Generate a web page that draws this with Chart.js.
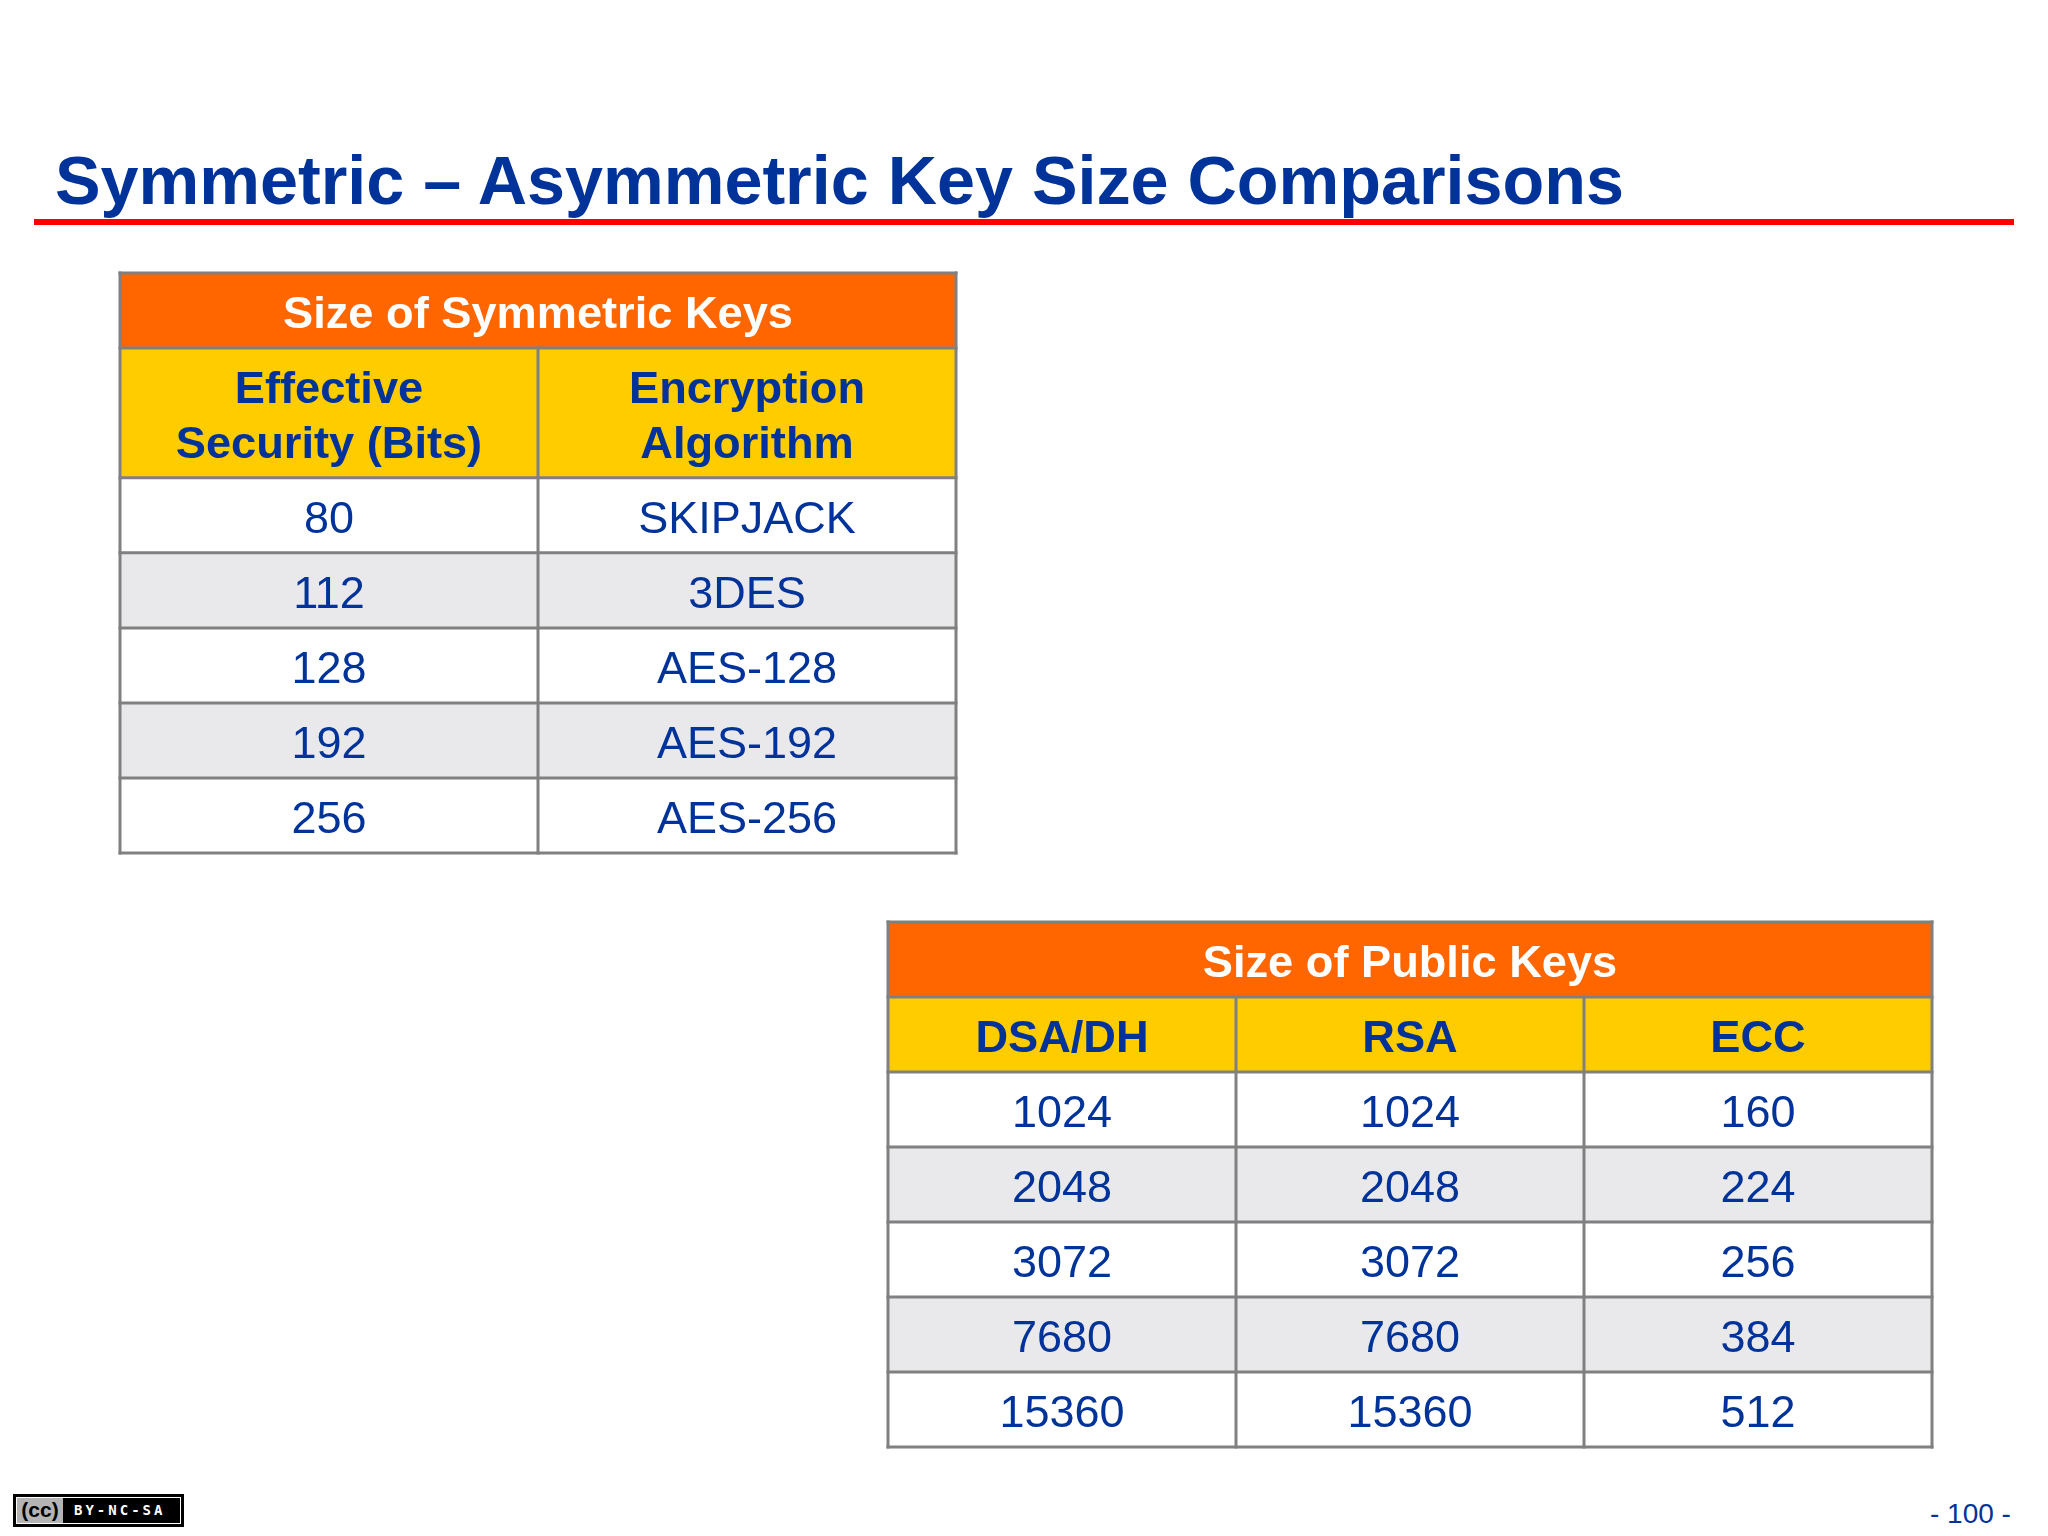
<!DOCTYPE html>
<html>
<head>
<meta charset="utf-8">
<title>Symmetric – Asymmetric Key Size Comparisons</title>
<script src="https://cdn.jsdelivr.net/npm/chart.js@4"></script>
<style>
    html, body { margin: 0; padding: 0; background: #fff; }
    body { width: 2048px; height: 1536px; position: relative; overflow: hidden; font-family: "Liberation Sans", sans-serif; color: #003399; }
    canvas { position: absolute; }
    #slideTitle { position: absolute; left: 55px; top: 140px; font-size: 68.3px; line-height: 80px; font-weight: bold; white-space: nowrap; margin: 0; }
    #titleRule { position: absolute; left: 34px; top: 219px; width: 1980px; height: 6px; background: #ff0000; }
    #pageNumber { position: absolute; left: 1930px; top: 1497px; font-size: 28px; line-height: 34px; white-space: pre; }
    #ccBadge { position: absolute; left: 13px; top: 1494px; width: 171px; height: 33px; background: #000; }
    #ccBadge .inner { position: absolute; left: 3px; top: 3px; width: 163px; height: 25px; border: 1px solid #fff; }
    #ccBadge .cc { position: absolute; left: 0; top: 0; width: 46px; height: 25px; background: #b4b4b4; color: #000; font: bold 21px/24px "Liberation Sans", sans-serif; text-align: center; }
    #ccBadge .terms { position: absolute; left: 57px; top: 0; color: #fff; font: bold 14px/25px "DejaVu Sans Mono", monospace; letter-spacing: 3px; white-space: nowrap; }
</style>
</head>
<body>
<h1 id="slideTitle">Symmetric – Asymmetric Key Size Comparisons</h1>
<div id="titleRule"></div>
<canvas id="symmetricTable" style="left:116px;top:269px"></canvas>
<canvas id="publicTable" style="left:884px;top:918px"></canvas>
<div id="ccBadge"><div class="inner"><div class="cc">(cc)</div><div class="terms">BY-NC-SA</div></div></div>
<div id="pageNumber">- 100 -</div>

<script>
// data
const symmetricTitle = 'Size of Symmetric Keys';
const symmetricColumns = [['Effective', 'Security (Bits)'], ['Encryption', 'Algorithm']];
const symmetricBits = ['80', '112', '128', '192', '256'];
const symmetricAlgorithms = ['SKIPJACK', '3DES', 'AES-128', 'AES-192', 'AES-256'];

const publicTitle = 'Size of Public Keys';
const publicColumns = [['DSA/DH'], ['RSA'], ['ECC']];
const dsaDhKeys = ['1024', '2048', '3072', '7680', '15360'];
const rsaKeys = ['1024', '2048', '3072', '7680', '15360'];
const eccKeys = ['160', '224', '256', '384', '512'];

const ORANGE = '#ff6600';
const YELLOW = '#ffcc00';
const GREY_ROW = '#e9e9ec';
const LINE = '#808080';
const BLUE = '#003399';
const PAD = 4; // room for the outer border inside the canvas
const TEXT_DROP = 5; // text sits a little under the row centre on the slide

// draws the rules and the cell texts from the scales and the bar elements
const tablePlugin = {
    id: 'tablePlugin',
    afterDatasetsDraw(chart, args, opts) {
        const ctx = chart.ctx;
        const x = chart.scales.x;
        const y = chart.scales.y;
        const area = chart.chartArea;
        const datasets = chart.data.datasets;

        ctx.save();
        ctx.strokeStyle = LINE;
        ctx.lineWidth = 3;
        ctx.lineCap = 'square';

        // horizontal rules at every row edge
        let edge = 0;
        const edges = [0];
        datasets.forEach(ds => { edge += ds.data[0]; edges.push(edge); });
        edges.forEach(e => {
            const py = y.getPixelForValue(e);
            ctx.beginPath();
            ctx.moveTo(area.left, py);
            ctx.lineTo(area.right, py);
            ctx.stroke();
        });

        // vertical rules: the title row stays undivided
        const colWidth = area.width / x.ticks.length;
        const below = y.getPixelForValue(edges[1]);
        for (let i = 0; i <= x.ticks.length; i++) {
            const px = x.getPixelForTick(0) - colWidth / 2 + colWidth * i;
            const isOuter = i === 0 || i === x.ticks.length;
            ctx.beginPath();
            ctx.moveTo(px, isOuter ? area.top : below);
            ctx.lineTo(px, area.bottom);
            ctx.stroke();
        }

        // texts
        ctx.textAlign = 'center';
        ctx.textBaseline = 'middle';
        datasets.forEach((ds, d) => {
            const bars = chart.getDatasetMeta(d).data;
            ctx.font = ds.textFont;
            ctx.fillStyle = ds.textColor;
            if (ds.spanText) {
                const midY = (bars[0].y + bars[0].base) / 2;
                ctx.fillText(ds.spanText, (area.left + area.right) / 2, midY + TEXT_DROP);
                return;
            }
            ds.cellText.forEach((lines, c) => {
                const midY = (bars[c].y + bars[c].base) / 2;
                const startY = midY - (lines.length - 1) * opts.lineHeight / 2;
                lines.forEach((line, l) => {
                    ctx.fillText(line, x.getPixelForTick(c), startY + l * opts.lineHeight + TEXT_DROP);
                });
            });
        });
        ctx.restore();
    }
};

function makeTable(canvasId, width, height, title, columns, bodyColumns, headerSpan) {
    const canvas = document.getElementById(canvasId);
    canvas.width = width;
    canvas.height = height;
    canvas.style.width = width + 'px';
    canvas.style.height = height + 'px';

    const labels = columns.map(c => c.join(' '));
    const span = v => labels.map(() => v);
    const datasets = [
        { data: span(1), backgroundColor: ORANGE, spanText: title, textFont: 'bold 45.2px "Liberation Sans"', textColor: '#ffffff' },
        { data: span(headerSpan), backgroundColor: YELLOW, cellText: columns, textFont: 'bold 45.2px "Liberation Sans"', textColor: BLUE }
    ];
    bodyColumns[0].forEach((_, r) => {
        datasets.push({
            data: span(1),
            backgroundColor: r % 2 === 0 ? '#ffffff' : GREY_ROW,
            cellText: bodyColumns.map(col => [col[r]]),
            textFont: '45px "Liberation Sans"',
            textColor: BLUE
        });
    });

    new Chart(canvas, {
        type: 'bar',
        data: { labels: labels, datasets: datasets },
        options: {
            responsive: false,
            animation: false,
            devicePixelRatio: 1,
            layout: { padding: PAD },
            datasets: { bar: { barPercentage: 1, categoryPercentage: 1 } },
            scales: {
                x: { stacked: true, display: false },
                y: { stacked: true, display: false, reverse: true, min: 0, max: headerSpan + 1 + bodyColumns[0].length }
            },
            plugins: {
                legend: { display: false },
                tooltip: { enabled: false },
                tablePlugin: { lineHeight: 55 }
            }
        },
        plugins: [tablePlugin]
    });
}

// PAD on each side around the table's outer rule
makeTable('symmetricTable', 844, 588, symmetricTitle, symmetricColumns, [symmetricBits, symmetricAlgorithms], 1.73);
makeTable('publicTable', 1052, 533, publicTitle, publicColumns, [dsaDhKeys, rsaKeys, eccKeys], 1);
</script>
</body>
</html>
